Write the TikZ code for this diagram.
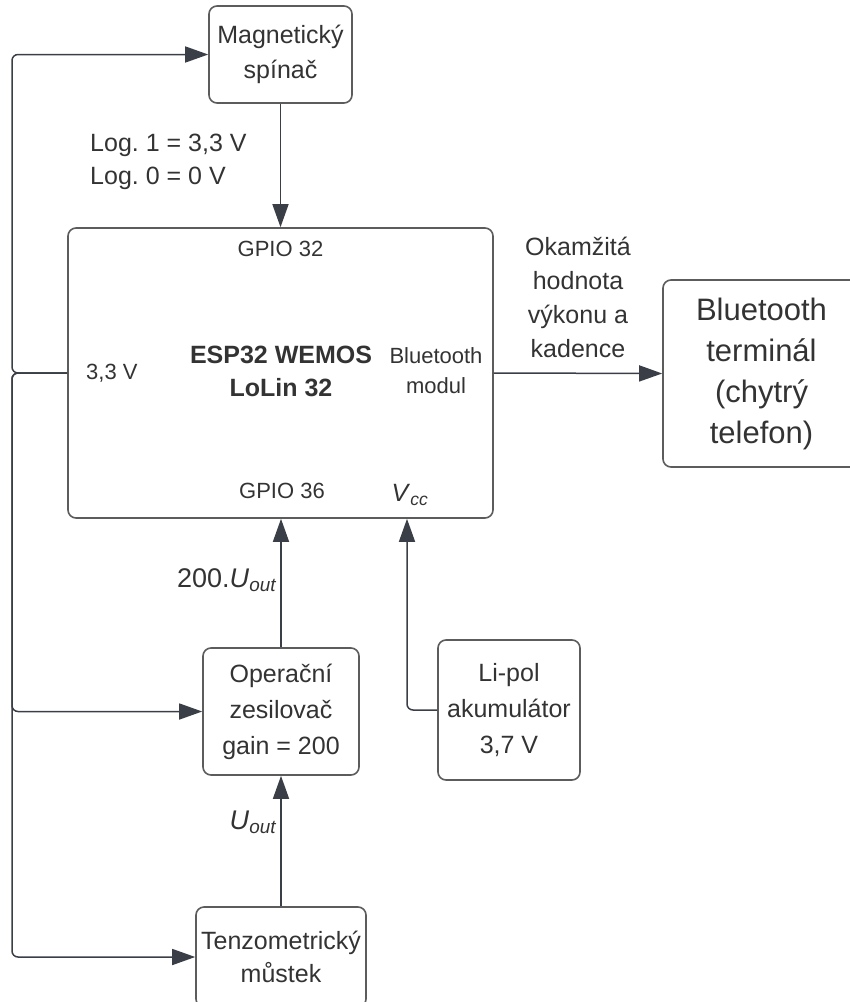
\documentclass[tikz,border=0pt]{standalone}
\usepackage{fontspec}
\setmainfont{Liberation Sans}
\usetikzlibrary{arrows.meta,calc}
\definecolor{txt}{HTML}{333333}
\definecolor{ln}{HTML}{3A3F47}
\definecolor{bd}{HTML}{5C5C5C}
\newcommand{\fsz}[2]{\fontsize{#1}{#2}\selectfont}
\frenchspacing
\begin{document}
\begin{tikzpicture}[x=1pt,y=-1pt,
  box/.style={draw=bd, line width=1.6pt, rounded corners=8pt, inner sep=0pt, align=center, text=txt},
  conn/.style={draw=ln, line width=1.5pt, -{Triangle[length=23pt,width=16pt]}},
  lbl/.style={text=txt, inner sep=0pt, align=center}]
\useasboundingbox (0,0) rectangle (850,1002);
\clip (0,0) rectangle (850,1002);

% boxes
\node[box, minimum width=143pt, minimum height=97pt, font=\fsz{25}{35}] (mag) at (280.5,54.5) {Magnetický\\spínač};
\node[box, minimum width=425pt, minimum height=290pt] (esp) at (280.5,373) {};
\node[box, minimum width=197pt, minimum height=187pt, font=\fsz{31}{41}] (bt) at (761.5,373.5) {Bluetooth\\terminál\\(chytrý\\telefon)};
\node[box, minimum width=156pt, minimum height=127pt, font=\fsz{25}{36}] (op) at (281,711.5) {Operační\\zesilovač\\gain = 200};
\node[box, minimum width=142pt, minimum height=140pt, font=\fsz{25}{36}] (li) at (509,710) {Li-pol\\akumulátor\\3,7 V};
\node[box, minimum width=170pt, minimum height=100pt, font=\fsz{25}{33}] (tz) at (281,957) {Tenzometrický\\můstek};

% texts inside ESP
\node[lbl, font=\fsz{22}{26}] (g32) at (280.5,249) {GPIO 32};
\node[lbl, font=\fsz{22}{26}, anchor=west] (v33) at (86,373) {3,3 V};
\node[lbl, font=\bfseries\fsz{25}{33}] (title) at (281,371) {ESP32 WEMOS\\LoLin 32};
\node[lbl, font=\fsz{22}{30}] (btm) at (436,371) {Bluetooth\\modul};
\node[lbl, font=\fsz{22}{26}] (g36) at (282,491) {GPIO 36};
\node[lbl, font=\fsz{25}{30}] (vcc) at (410,495) {\textit{V}\textsubscript{\textit{cc}}};

% connector labels
\node[lbl, align=left, anchor=west, font=\fsz{25}{33}] (loglbl) at (90,161.5) {Log. 1 = 3,3 V\\Log. 0 = 0 V};
\node[lbl, font=\fsz{25}{34}] (oklbl) at (578,297) {Okamžitá\\hodnota\\výkonu a\\kadence};
\node[lbl, anchor=east, font=\fsz{27}{30}] (u200) at (277,580) {200.\textit{U}\textsubscript{\textit{out}}};
\node[lbl, anchor=east, font=\fsz{27}{30}] (uout) at (277,822) {\textit{U}\textsubscript{\textit{out}}};

% connectors
\coordinate (bus) at (12,373);
\coordinate (vccin) at ([xshift=126.5pt]esp.south);
\draw[conn] (mag.south) -- (esp.north);
\draw[conn] (esp.east) -- (bt.west);
\draw[conn, rounded corners=6pt] (esp.west) -- (bus) |- (mag.west);
\draw[conn, rounded corners=6pt] (esp.west) -- (bus) |- (op.west);
\draw[conn, rounded corners=6pt] (esp.west) -- (bus) |- (tz.west);
\draw[conn] (op.north) -- (op.north |- esp.south);
\draw[conn] (tz.north) -- (op.south);
\draw[conn, rounded corners=6pt] (li.west) -| (vccin);
\end{tikzpicture}
\end{document}
